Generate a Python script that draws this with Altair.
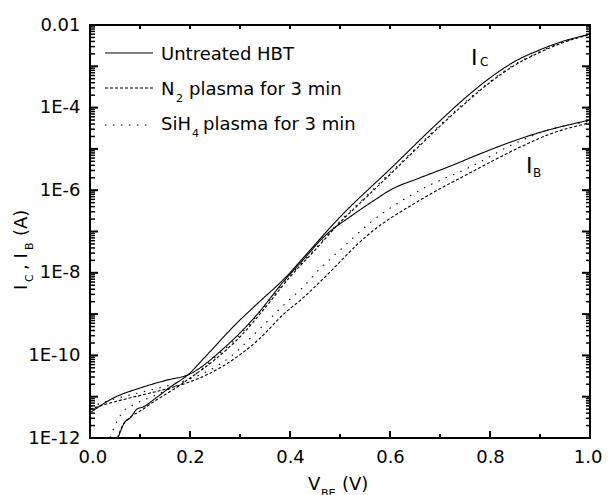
import altair as alt
import pandas as pd

# ---------------- data (V_BE in volts, currents as log10(I / A)) ----------------
v_ic_untreated = [0.056, 0.07, 0.08, 0.094, 0.106, 0.134, 0.166, 0.196, 0.23, 0.296, 0.33, 0.396, 0.43,
                  0.5, 0.6, 0.7, 0.75, 0.8, 0.85, 0.9, 0.95, 1.0]
log_ic_untreated = [-12.0, -11.61, -11.52, -11.30, -11.25, -11.01, -10.72, -10.47, -10.04, -9.19, -8.80, -8.05,
                    -7.59, -6.65, -5.49, -4.32, -3.77, -3.28, -2.88, -2.60, -2.38, -2.22]

v_ib_untreated = [0.0, 0.047, 0.1, 0.153, 0.196, 0.27, 0.33, 0.39, 0.426, 0.466, 0.53, 0.574, 0.6, 0.66,
                  0.72, 0.78, 0.84, 0.9, 0.95, 1.0]
log_ib_untreated = [-11.39, -11.03, -10.79, -10.60, -10.47, -9.80, -9.07, -8.17, -7.69, -7.15, -6.56, -6.20,
                    -6.0, -5.70, -5.42, -5.12, -4.84, -4.60, -4.44, -4.30]

v_ic_n2 = [0.055, 0.065, 0.08, 0.1, 0.13, 0.17, 0.2, 0.25, 0.3, 0.35, 0.4, 0.45, 0.5, 0.55, 0.6, 0.65, 0.7,
           0.75, 0.8, 0.85, 0.9, 0.95, 1.0]
log_ic_n2 = [-12.0, -11.7, -11.5, -11.35, -11.1, -10.8, -10.55, -10.1, -9.55, -8.85, -8.1, -7.45, -6.78, -6.2,
             -5.62, -5.03, -4.45, -3.90, -3.39, -2.97, -2.66, -2.41, -2.23]

v_ib_n2 = [0.0, 0.05, 0.1, 0.15, 0.2, 0.27, 0.336, 0.39, 0.426, 0.46, 0.56, 0.66, 0.76, 0.853, 0.92, 1.0]
log_ib_n2 = [-11.3, -11.12, -10.97, -10.82, -10.64, -10.23, -9.63, -8.97, -8.61, -8.22, -7.04, -6.24, -5.58,
             -5.0, -4.64, -4.37]

v_ic_sih4 = [0.04, 0.05, 0.065, 0.09, 0.13, 0.17, 0.2, 0.25, 0.3, 0.35, 0.4, 0.45, 0.5, 0.55, 0.6, 0.65, 0.7,
             0.75, 0.8, 0.85, 0.9, 0.95, 1.0]
log_ic_sih4 = [-12.0, -11.7, -11.38, -11.18, -10.97, -10.75, -10.55, -10.05, -9.5, -8.8, -8.07, -7.42, -6.75,
               -6.17, -5.58, -5.0, -4.42, -3.87, -3.37, -2.95, -2.64, -2.40, -2.22]

v_ib_sih4 = [0.0, 0.05, 0.1, 0.15, 0.2, 0.28, 0.34, 0.39, 0.424, 0.46, 0.5, 0.56, 0.66, 0.76, 0.853, 0.92, 1.0]
log_ib_sih4 = [-11.25, -11.05, -10.9, -10.75, -10.57, -10.04, -9.35, -8.75, -8.37, -7.9, -7.45, -6.79, -6.0,
               -5.44, -4.85, -4.53, -4.33]

treatments = ["Untreated HBT", "N2 plasma for 3 min", "SiH4 plasma for 3 min"]

x_label_values = [0.0, 0.2, 0.4, 0.6, 0.8, 1.0]
x_minor_values = [0.1, 0.3, 0.5, 0.7, 0.9]
y_label_values = [1e-12, 1e-10, 1e-8, 1e-6, 1e-4, 1e-2]
y_label_texts = ["1E-12", "1E-10", "1E-8", "1E-6", "1E-4", "0.01"]
y_decades = [10.0 ** d for d in range(-12, -1)]
y_minor_values = [k * 10.0 ** d for d in range(-12, -2) for k in range(2, 10)]

# ---------------- build table ----------------
curves = [
    ("Untreated HBT", "IC", v_ic_untreated, log_ic_untreated),
    ("Untreated HBT", "IB", v_ib_untreated, log_ib_untreated),
    ("N2 plasma for 3 min", "IC", v_ic_n2, log_ic_n2),
    ("N2 plasma for 3 min", "IB", v_ib_n2, log_ib_n2),
    ("SiH4 plasma for 3 min", "IC", v_ic_sih4, log_ic_sih4),
    ("SiH4 plasma for 3 min", "IB", v_ib_sih4, log_ib_sih4),
]
rows = []
for treat, kind, vs, ls in curves:
    for v, l in zip(vs, ls):
        rows.append({"V": v, "I": 10.0 ** l, "treatment": treat, "curve": treat + " " + kind})
df = pd.DataFrame(rows)

W, H = 500, 413
FONT = "DejaVu Sans"
xscale = alt.Scale(domain=[0, 1], nice=False, zero=False)
yscale = alt.Scale(type="log", domain=[1e-12, 1e-2], nice=False)

DASH_SOLID, DASH_DASHED, DASH_DOTTED = [1, 0], [3, 2], [1.5, 6.5]

label_expr = ""
for v, t in zip(y_label_values[:-1], y_label_texts[:-1]):
    label_expr += f"datum.value < {v * 3:g} ? '{t}' : "
label_expr += f"'{y_label_texts[-1]}'"

x_axis = alt.Axis(values=x_label_values, format=".1f", title=None, ticks=False, tickSize=0,
                  domain=False, labelPadding=10, grid=False, labelFlush=True, labelFlushOffset=12,
                  labelOverlap=False)
y_axis = alt.Axis(values=y_label_values, labelExpr=label_expr, title=None, ticks=False, tickSize=0,
                  domain=False, labelPadding=10, grid=False, labelFlush=False, labelOverlap=False)

lines = alt.Chart(df).mark_line(color="black", strokeWidth=1.1, interpolate="monotone", clip=True).encode(
    x=alt.X("V:Q", scale=xscale, axis=x_axis),
    y=alt.Y("I:Q", scale=yscale, axis=y_axis),
    strokeDash=alt.StrokeDash("treatment:N",
                              scale=alt.Scale(domain=treatments, range=[DASH_SOLID, DASH_DASHED, DASH_DOTTED]),
                              legend=None),
    detail="curve:N",
)


def yticks(vals, x0, x1, sw):
    return alt.Chart(pd.DataFrame({"t": vals})).mark_rule(color="black", strokeWidth=sw).encode(
        y=alt.Y("t:Q", scale=yscale, axis=y_axis), x=alt.value(x0), x2=alt.value(x1))


def xticks(vals, y0, y1, sw):
    return alt.Chart(pd.DataFrame({"t": vals})).mark_rule(color="black", strokeWidth=sw).encode(
        x=alt.X("t:Q", scale=xscale, axis=x_axis), y=alt.value(y0), y2=alt.value(y1))


ticks = [
    yticks(y_decades, 0, 8, 2), yticks(y_minor_values, 0, 5, 1.5),
    yticks(y_decades, W, W - 8, 2), yticks(y_minor_values, W, W - 4, 1.5),
    xticks(x_label_values, H, H - 7, 2), xticks(x_minor_values, H, H - 4, 2),
    xticks(x_label_values + x_minor_values, 0, 4, 2),
]


def txt(s, x, y, size=18, angle=0):
    return alt.Chart(pd.DataFrame({"s": [s]})).mark_text(
        align="left", baseline="alphabetic", font=FONT, fontSize=size, color="black", angle=angle
    ).encode(text="s:N", x=alt.value(x), y=alt.value(y))


def legend_line(y, dash):
    return alt.Chart(pd.DataFrame({"a": [0]})).mark_rule(color="black", strokeWidth=1.1, strokeDash=dash).encode(
        x=alt.value(15), x2=alt.value(63), y=alt.value(y))


texts = [
    # legend
    legend_line(28, DASH_SOLID), legend_line(63, DASH_DASHED), legend_line(100, DASH_DOTTED),
    txt("Untreated HBT", 71, 35),
    txt("N", 71, 70), txt("2", 86, 77, 11), txt("plasma for 3 min", 99, 70),
    txt("SiH", 71, 105), txt("4", 102, 112, 11), txt("plasma for 3 min", 113, 105),
    # curve annotations
    txt("I", 381, 40, 22), txt("C", 390, 41, 12),
    txt("I", 436, 148, 22), txt("B", 443, 152, 12),
    # x title
    txt("V", 218, 465), txt("BE", 231, 472, 11), txt("(V)", 252, 465),
    # y title (rotated)
    txt("I", -63, 265, 18, 270), txt("C", -57, 257, 11, 270), txt(", I", -63, 245, 18, 270),
    txt("B", -57, 225, 11, 270), txt("(A)", -63, 211, 18, 270),
]

chart = alt.layer(lines, *ticks, *texts).properties(
    width=W, height=H,
    padding={"left": 82, "top": 17, "right": 12, "bottom": 57},
    autosize=alt.AutoSizeParams(type="none"),
).configure_view(stroke="black", strokeWidth=2).configure_axis(
    labelFont=FONT, labelFontSize=18, labelColor="black", grid=False
)

chart.save("out.html", embed_options={"renderer": "svg", "actions": False})
